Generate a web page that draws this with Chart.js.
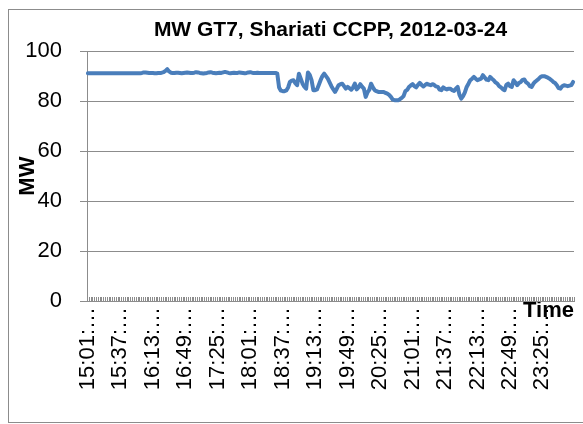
<!DOCTYPE html>
<html>
<head>
<meta charset="utf-8">
<script src="https://cdn.jsdelivr.net/npm/chart.js@4.4.1/dist/chart.umd.min.js"></script>
<style>
  html, body { margin: 0; padding: 0; background: #fff; }
  #c { display: block; }
</style>
</head>
<body>
<canvas id="c" width="583" height="424"></canvas>
<script>
// ---- data ----
const chartTitle = 'MW GT7, Shariati CCPP, 2012-03-24';
const yAxisTitle = 'MW';
const xAxisTitle = 'Time';
const startHour = 15, startMinute = 1, stepMinutes = 2;   // samples every 2 minutes
const labelEvery = 18;                                       // a label every 36 minutes
const yTicks = [0, 20, 40, 60, 80, 100];

const mwValues = [
  91.2,91.2,91.2,91.2,91.2,91.2,91.2,91.2,91.2,91.2,
  91.2,91.2,91.2,91.2,91.2,91.2,91.2,91.2,91.2,91.2,
  91.2,91.2,91.2,91.2,91.2,91.2,91.2,91.2,91.2,91.2,
  91.3,91.5,91.5,91.4,91.3,91.3,91.3,91.2,91.2,91.3,
  91.3,91.4,91.6,92.1,92.8,91.9,91.4,91.3,91.3,91.4,
  91.4,91.3,91.2,91.3,91.4,91.5,91.4,91.3,91.3,91.4,
  91.6,91.5,91.3,91.2,91.1,91.2,91.3,91.5,91.6,91.4,
  91.3,91.2,91.3,91.4,91.3,91.5,91.7,91.5,91.3,91.2,
  91.3,91.4,91.3,91.3,91.5,91.4,91.3,91.2,91.3,91.5,
  91.6,91.4,91.3,91.3,91.4,91.3,91.3,91.3,91.3,91.3,
  91.3,91.3,91.3,91.3,91.3,91.0,85.5,84.2,84.0,84.0,
  84.3,85.5,87.7,88.2,88.4,87.2,86.4,91.0,89.0,87.0,
  85.8,85.0,91.5,90.5,88.4,84.4,84.4,84.7,86.5,88.4,
  90.0,91.0,90.0,89.0,87.5,86.0,84.8,83.7,85.0,86.4,
  86.8,87.0,86.0,85.0,85.7,85.2,84.6,85.5,87.0,84.7,
  85.5,86.8,85.8,85.0,81.7,83.5,84.5,87.0,85.5,84.4,
  84.0,83.7,83.7,83.7,83.7,83.3,83.0,82.5,81.7,80.6,
  80.4,80.4,80.4,80.8,81.3,82.0,84.0,84.5,85.7,86.3,
  86.8,86.0,85.5,86.5,87.3,86.5,85.9,86.5,87.0,86.6,
  86.4,86.8,86.5,85.9,85.7,84.6,84.4,85.5,85.0,84.7,
  85.0,85.0,84.4,84.1,85.0,85.7,82.5,81.0,82.0,83.5,
  85.7,87.0,88.4,89.0,89.7,89.0,88.4,88.7,89.0,90.4,
  89.5,88.6,88.4,89.7,89.0,88.4,87.5,87.0,86.0,85.5,
  84.8,84.4,86.5,87.0,86.0,85.7,88.4,87.5,86.4,87.3,
  87.7,88.5,88.7,87.5,87.0,86.0,85.7,87.0,87.8,88.4,
  89.0,89.7,90.0,90.0,89.7,89.4,89.0,88.4,87.7,87.3,
  86.4,85.2,85.0,86.0,86.4,86.2,86.0,86.2,86.4,87.7
];

// time categories (hh:mm:ss)
const pad2 = n => String(n).padStart(2, '0');
const categories = mwValues.map((_, i) => {
  const m = startHour * 60 + startMinute + i * stepMinutes;
  return pad2(Math.floor(m / 60)) + ':' + pad2(m % 60) + ':00';
});

// ---- styling ----
const GRAY = '#8c8c8c';
const FONT = "'Liberation Sans', Arial, sans-serif";

const frame = {
  id: 'frame',
  beforeDraw(chart) {
    const ctx = chart.ctx;
    ctx.save();
    ctx.fillStyle = '#fff';
    ctx.fillRect(0, 0, chart.width, chart.height);
    ctx.strokeStyle = GRAY;
    ctx.lineWidth = 1;
    ctx.strokeRect(8.5, 9.5, 600, 413);
    ctx.restore();
  }
};

const innerTicks = {
  id: 'innerTicks',
  beforeDatasetsDraw(chart) {
    const xs = chart.scales.x, ctx = chart.ctx;
    const yb = chart.chartArea.bottom;
    ctx.save();
    ctx.strokeStyle = GRAY;
    ctx.lineWidth = 1;
    ctx.beginPath();
    for (let i = 0; i <= categories.length; i++) {
      const px = Math.round(xs.getPixelForValue(i - 0.5)) + 0.5;
      ctx.moveTo(px, yb);
      ctx.lineTo(px, yb - 4);
    }
    ctx.stroke();
    ctx.restore();
  }
};

new Chart(document.getElementById('c'), {
  type: 'line',
  data: {
    labels: categories,
    datasets: [{
      data: mwValues,
      borderColor: '#4a7ebb',
      borderWidth: 4,
      pointRadius: 0,
      tension: 0,
      fill: false,
      borderJoinStyle: 'round',
      borderCapStyle: 'round'
    }]
  },
  options: {
    responsive: false,
    animation: false,
    devicePixelRatio: 1,
    layout: { padding: { left: 8, right: 9, top: 0, bottom: 2 } },
    plugins: {
      legend: { display: false },
      tooltip: { enabled: false },
      title: {
        display: true,
        text: chartTitle,
        fullSize: false,
        color: '#000',
        font: { family: FONT, size: 21, weight: 'bold', lineHeight: 1.2 },
        padding: { top: 18, bottom: 8 }
      }
    },
    scales: {
      x: {
        type: 'category',
        offset: true,
        grid: { display: false, drawTicks: false },
        border: { display: true, color: GRAY, width: 1 },
        ticks: {
          autoSkip: false,
          minRotation: 90,
          maxRotation: 90,
          padding: 6,
          color: '#000',
          font: { family: FONT, size: 22 },
          callback: (v, i) => (i % labelEvery === 0 ? categories[i].slice(0, 6) + '\u2026' : '')
        },
        title: {
          display: true,
          text: xAxisTitle,
          align: 'end',
          color: '#000',
          font: { family: FONT, size: 22, weight: 'bold', lineHeight: 1.2 },
          padding: { top: 0, bottom: 98 }
        },
        afterFit(s) { s.height = 121; s.paddingLeft = 0; s.paddingRight = 0; }
      },
      y: {
        min: 0,
        max: 100,
        afterBuildTicks(s) { s.ticks = yTicks.map(v => ({ value: v })); },
        grid: { color: GRAY, lineWidth: 1, drawTicks: true, tickLength: 7 },
        border: { display: true, color: GRAY, width: 1 },
        ticks: {
          padding: 18,
          color: '#000',
          font: { family: FONT, size: 22 }
        },
        title: {
          display: true,
          text: yAxisTitle,
          color: '#000',
          font: { family: FONT, size: 22, weight: 'bold', lineHeight: 1.2 },
          padding: { top: 7, bottom: 0 }
        },
        afterFit(s) { s.width = 79; }
      }
    }
  },
  plugins: [frame, innerTicks]
});
</script>
</body>
</html>
